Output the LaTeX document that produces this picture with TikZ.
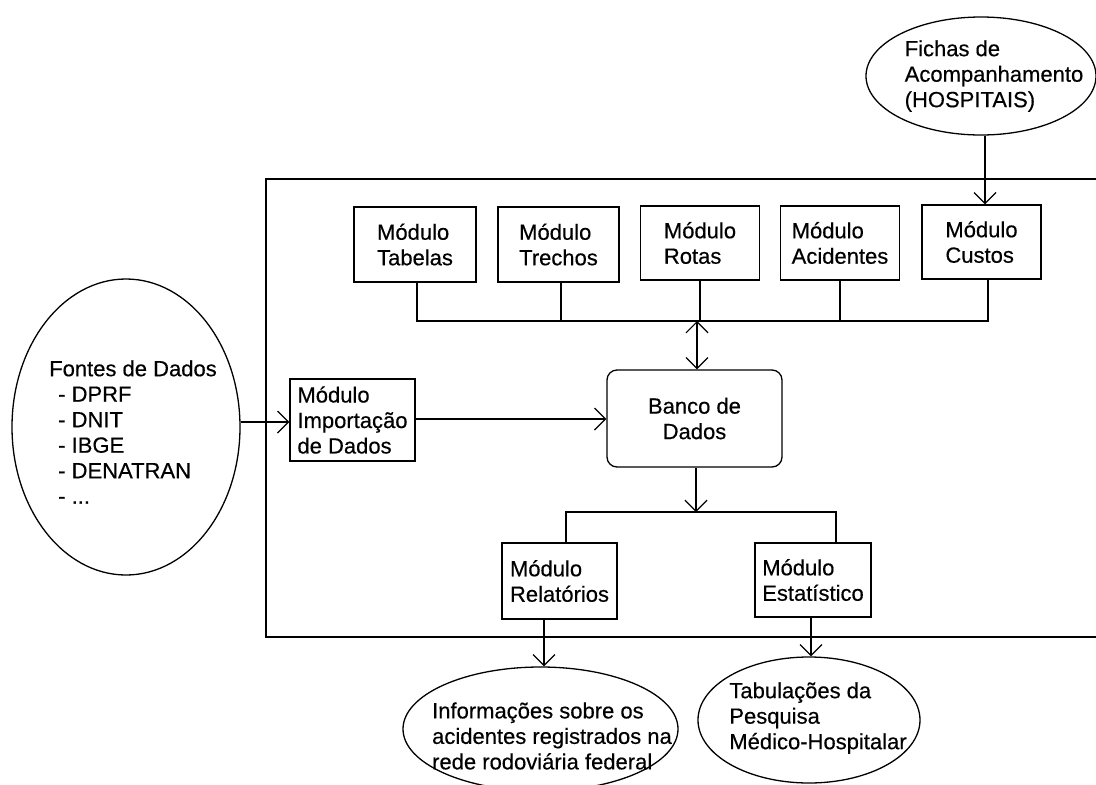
\documentclass[tikz,border=0pt]{standalone}
\usepackage{fontspec}
\setmainfont{Liberation Sans}[FakeBold=0.4]
\usetikzlibrary{arrows.meta,shapes.geometric}
\begin{document}
\begin{tikzpicture}[x=1pt,y=-1pt,
  every node/.style={font=\fontsize{22}{25.5}\selectfont},
  lw/.style={line width=1.3pt},
  modbox/.style={draw,lw,inner sep=0pt,align=left},
  ell/.style={draw,lw,ellipse,inner sep=0pt},
  txt/.style={inner sep=0pt,align=left},
  arr/.style={lw,-{Straight Barb[length=11pt,width=22pt,line width=1.2pt]}},
  darr/.style={lw,{Straight Barb[length=11pt,width=22pt,line width=1.2pt]}-{Straight Barb[length=11pt,width=22pt,line width=1.2pt]}},
]
\useasboundingbox (0,0) rectangle (1096,785);
\fill[white] (0,0) rectangle (1096,785);

% outer frame (right side outside the picture)
\draw[lw] (1097,179) -- (266,179) -- (266,637) -- (1097,637);

% top modules
\node[modbox,minimum width=122pt,minimum height=75pt] (tab) at (415,244.5) {Módulo\\Tabelas};
\node[modbox,minimum width=121pt,minimum height=75pt] (tre) at (558.5,244.5) {Módulo\\Trechos};
\node[modbox,minimum width=119pt,minimum height=74pt] (rot) at (700,243) {Módulo\\Rotas};
\node[modbox,minimum width=119pt,minimum height=74pt] (aci) at (840,243) {Módulo\\Acidentes};
\node[modbox,minimum width=119pt,minimum height=74pt] (cus) at (981.5,242) {Módulo\\Custos};

% database
\node[draw,lw,rounded corners=10pt,minimum width=175pt,minimum height=97pt,align=center,inner sep=0pt] (ban) at (694.5,418.5) {Banco de\\Dados};

% import module
\node[modbox,minimum width=125pt,minimum height=82pt] (imp) at (352.5,420) {Módulo\\Importação\\de Dados};

% bottom modules
\node[modbox,minimum width=115pt,minimum height=76pt] (rel) at (559.5,581) {Módulo\\Relatórios};
\node[modbox,minimum width=116pt,minimum height=74pt] (est) at (813,580) {Módulo\\Estatístico};

% ellipses
\node[ell,minimum width=228pt,minimum height=296pt] (fon) at (126,427) {};
\node[txt] (fontxt) at (133,432) {Fontes de Dados\\\hspace*{9pt}- DPRF\\\hspace*{9pt}- DNIT\\\hspace*{9pt}- IBGE\\\hspace*{9pt}- DENATRAN\\\hspace*{9pt}- ...};

\node[ell,minimum width=230pt,minimum height=118pt] (fic) at (981,76) {};
\node[txt] (fictxt) at (994,76) {Fichas de\\Acompanhamento\\(HOSPITAIS)};

\node[ell,minimum width=275pt,minimum height=124pt] (inf) at (540.5,729) {};
\node[txt] (inftxt) at (552,736) {Informações sobre os\\acidentes registrados na\\rede rodoviária federal};

\node[ell,minimum width=222pt,minimum height=126pt] (tbl) at (809,720) {};
\node[txt] (tbltxt) at (818,718) {Tabulações da\\Pesquisa\\Médico-Hospitalar};

% bus above database
\coordinate (bus) at (697,321);
\draw[lw] ([xshift=2pt]tab.south) |- (bus) -| ([xshift=6.5pt]cus.south);
\draw[lw] ([xshift=2.5pt]tre.south) -- ([xshift=2.5pt]tre.south |- bus);
\draw[lw] (rot.south) -- (rot.south |- bus);
\draw[lw] (aci.south) -- (aci.south |- bus);
\draw[darr] (bus) -- (bus |- ban.north);

% bus below database
\coordinate (bus2) at (696,512);
\draw[arr] (ban.south -| bus2) -- (bus2);
\draw[lw] (rel.north -| 566,0) -- (566,512) -- (836,512) -- (est.north -| 836,0);

% other arrows
\draw[arr] (fic.south -| 985,0) -- (cus.north -| 985,0);
\draw[arr] (fon.east |- 0,422) -- (imp.west |- 0,422);
\draw[arr] (imp.east |- 0,419) -- (ban.west |- 0,419);
\draw[arr] (rel.south -| 544,0) -- (inf.north -| 544,0);
\draw[arr] (est.south -| 811,0) -- (tbl.north -| 811,0);
\end{tikzpicture}
\end{document}
